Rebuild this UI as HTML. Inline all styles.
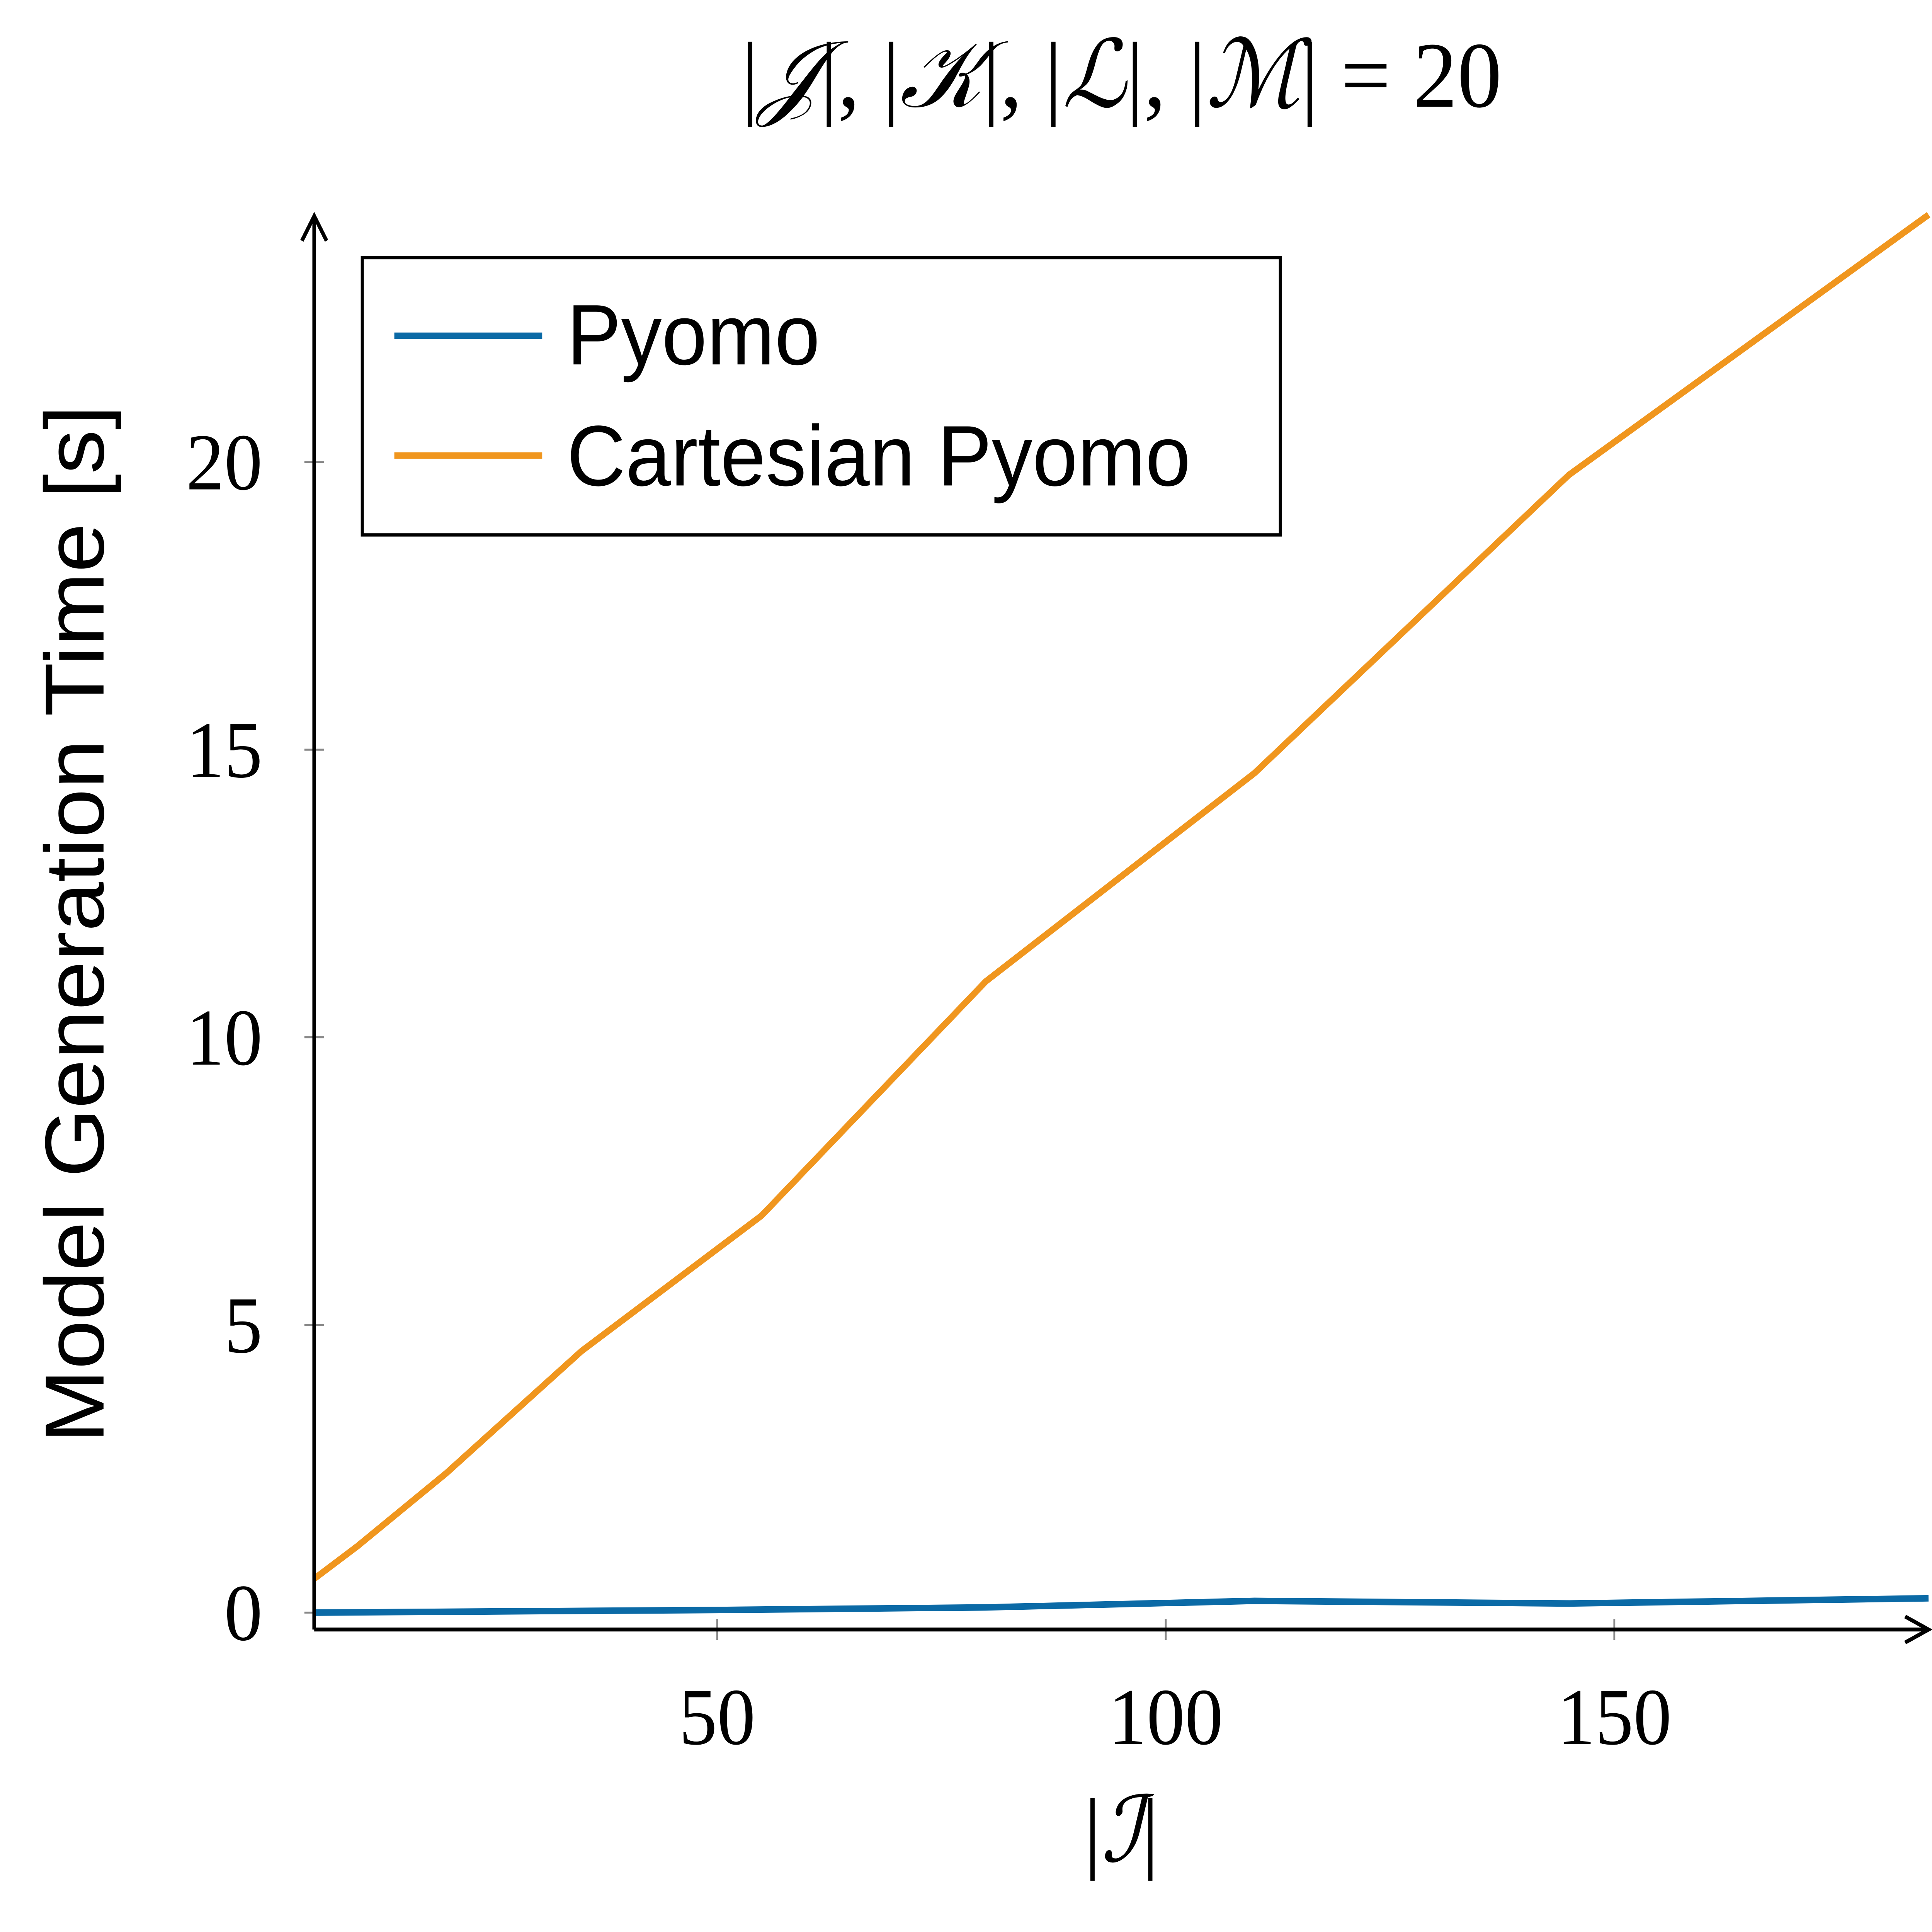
<!DOCTYPE html>
<html><head><meta charset="utf-8"><style>html,body{margin:0;padding:0;background:#fff;width:100%;height:100%;overflow:hidden}svg{display:block;width:100vw;height:100vh}</style></head>
<body>
<svg xmlns="http://www.w3.org/2000/svg" viewBox="0 0 1567.8 1484.4" preserveAspectRatio="none">
<rect width="1567.8" height="1484.4" fill="#fff"/>
<text x="910" y="82" text-anchor="middle" font-family="Liberation Serif, serif" font-size="72">|<tspan font-style="italic">𝒥</tspan>|, |<tspan font-style="italic">𝒦</tspan>|, |<tspan font-style="italic">ℒ</tspan>|, |<tspan font-style="italic">ℳ</tspan>| = 20</text>
<g stroke="#888" stroke-width="1.5">
<line x1="247" y1="1239" x2="263" y2="1239"/><line x1="247" y1="1018" x2="263" y2="1018"/><line x1="247" y1="797" x2="263" y2="797"/><line x1="247" y1="576" x2="263" y2="576"/><line x1="247" y1="355" x2="263" y2="355"/>
<line x1="582" y1="1244" x2="582" y2="1260"/><line x1="946" y1="1244" x2="946" y2="1260"/><line x1="1310" y1="1244" x2="1310" y2="1260"/>
</g>
<g font-family="Liberation Serif, serif" font-size="62" fill="#000">
<text x="213" y="1260" text-anchor="end">0</text><text x="213" y="1039" text-anchor="end">5</text><text x="213" y="818" text-anchor="end">10</text><text x="213" y="597" text-anchor="end">15</text><text x="213" y="376" text-anchor="end">20</text>
<text x="582" y="1340" text-anchor="middle">50</text><text x="946" y="1340" text-anchor="middle">100</text><text x="1310" y="1340" text-anchor="middle">150</text>
<text x="910" y="1430" text-anchor="middle" font-size="70">|<tspan font-style="italic">ℐ</tspan>|</text>
</g>
<text transform="translate(84,710) rotate(-90)" text-anchor="middle" font-family="Liberation Sans, sans-serif" font-size="68">Model Generation Time [s]</text>
<polyline fill="none" stroke="#f0961e" stroke-width="5" stroke-linejoin="round" points="255,1213 290,1188 362,1132 472,1038 618,934 800,754 1018,594 1273,365 1565,165"/>
<polyline fill="none" stroke="#0b6aa6" stroke-width="5" stroke-linejoin="round" points="255,1239 582,1237 800,1235 1018,1230 1273,1232 1565,1228"/>
<g stroke="#000" stroke-width="3" fill="none">
<line x1="255" y1="1252" x2="255" y2="168"/><line x1="255" y1="1252" x2="1563" y2="1252"/>
<polyline points="245,185 255,166 265,185"/><polyline points="1546,1242 1565,1252 1546,1262"/>
</g>
<rect x="294" y="198" width="745" height="213" fill="#fff" stroke="#000" stroke-width="2.5"/>
<line x1="320" y1="258" x2="440" y2="258" stroke="#0b6aa6" stroke-width="5"/>
<line x1="320" y1="350" x2="440" y2="350" stroke="#f0961e" stroke-width="5"/>
<g font-family="Liberation Sans, sans-serif" font-size="66" fill="#000">
<text x="460" y="280">Pyomo</text><text x="460" y="373">Cartesian Pyomo</text>
</g>
</svg>
</body></html>
